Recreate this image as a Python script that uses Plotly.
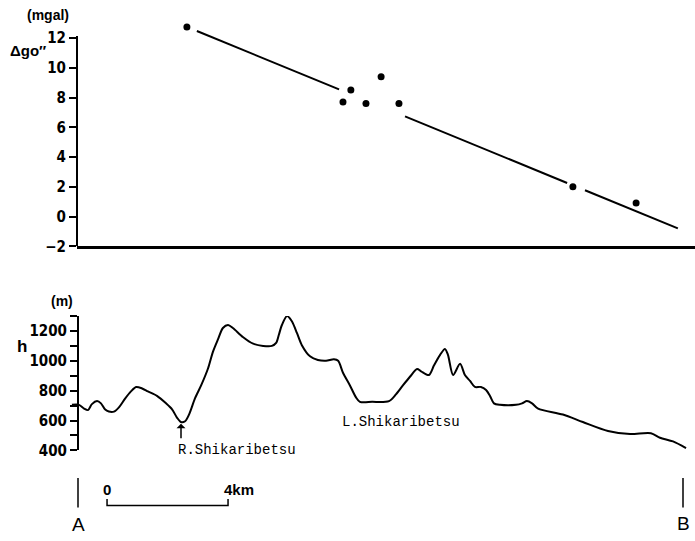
import plotly.graph_objects as go

# ---------------- data ----------------
# Gravity anomaly (top panel): distance along profile A-B (km), value (mgal)
grav_km = [3.60, 8.76, 9.02, 9.52, 10.02, 10.61, 16.36, 18.45]
grav_mgal = [12.75, 7.7, 8.5, 7.6, 9.4, 7.6, 2.0, 0.92]

# Trend line segments (drawn with gaps around the points)
trend_km = [3.93, 8.63, None, 10.81, 16.17, None, 16.76, 19.83]
trend_mgal = [12.47, 8.55, None, 6.73, 2.26, None, 1.77, -0.79]

# Topographic profile (bottom panel): distance (km), height (m)
prof_km = [-0.20, 0.03, 0.20, 0.33, 0.46, 0.63, 0.76, 0.89, 1.02, 1.19,
           1.36, 1.55, 1.75, 1.92, 2.12, 2.31, 2.61, 2.91, 3.11, 3.27,
           3.40, 3.54, 3.67, 3.87, 4.07, 4.30, 4.46, 4.63, 4.79, 4.96,
           5.12, 5.45, 5.79, 6.12, 6.41, 6.55, 6.64, 6.74, 6.91, 7.07,
           7.24, 7.40, 7.67, 7.93, 8.20, 8.46, 8.60, 8.76, 8.99, 9.19,
           9.32, 9.72, 10.28, 10.51, 10.74, 10.98, 11.21, 11.34, 11.60, 11.77,
           11.97, 12.13, 12.23, 12.40, 12.63, 12.79, 12.96, 13.12, 13.32, 13.49,
           13.62, 13.75, 13.95, 14.48, 14.68, 14.84, 15.01, 15.21, 16.03, 16.69,
           17.52, 18.25, 18.94, 19.24, 19.67, 20.10]
prof_h = [705, 705, 680, 670, 710, 730, 715, 675, 660, 660,
          690, 745, 795, 825, 815, 795, 765, 715, 675, 620,
          590, 595, 640, 750, 835, 950, 1060, 1145, 1220, 1240,
          1220, 1160, 1115, 1100, 1100, 1120, 1175, 1240, 1300, 1265,
          1185, 1105, 1030, 1005, 1000, 1010, 1000, 920, 835, 755,
          725, 725, 730, 775, 835, 895, 945, 930, 905, 970,
          1040, 1080, 1040, 905, 980, 905, 865, 825, 825, 805,
          765, 715, 705, 705, 715, 730, 715, 680, 640, 590,
          530, 510, 515, 485, 460, 415]

grav_ticks = [-2, 0, 2, 4, 6, 8, 10, 12]
grav_axis_top = 12.13
h_ticks = [400, 600, 800, 1000, 1200]

scale_start_km = 0.96
scale_len_km = 4
A_km, B_km = 0.0, 20.0

# ---------------- layout helpers ----------------
W, H = 695, 541
def px(x):
    return x / W
def py(y):
    return 1 - y / H

KM_PX = 30.25
X0_PX = 78.0
def km_at(xpx):
    return (xpx - X0_PX) / KM_PX

# top panel vertical placement: -2 mgal at 250.5 px, 15.13 px per mgal
G_BOTTOM_PX = 250.5
G_PX_PER = 15.13
G_TOP_VAL = 13.2
g_top_px = G_BOTTOM_PX - (G_TOP_VAL + 2) * G_PX_PER

NARROW = "Liberation Sans Narrow, DejaVu Sans Condensed, Arial Narrow, sans-serif"
SANS = "Liberation Sans, Arial, sans-serif"
MONO = "Liberation Mono, DejaVu Sans Mono, monospace"

fig = go.Figure()
fig.add_trace(go.Scatter(x=trend_km, y=trend_mgal, mode="lines",
                         line=dict(color="black", width=2),
                         connectgaps=False, xaxis="x", yaxis="y",
                         cliponaxis=False, showlegend=False))
fig.add_trace(go.Scatter(x=grav_km, y=grav_mgal, mode="markers",
                         marker=dict(color="black", size=7),
                         xaxis="x", yaxis="y", cliponaxis=False,
                         showlegend=False))
fig.add_trace(go.Scatter(x=prof_km, y=prof_h, mode="lines",
                         line=dict(color="black", width=2, shape="spline",
                                   smoothing=0.8),
                         xaxis="x2", yaxis="y2", cliponaxis=False,
                         showlegend=False))

tickfont = dict(family=NARROW, size=15, color="black", weight="bold")
fig.update_layout(
    width=W, height=H, autosize=False,
    margin=dict(l=0, r=0, t=0, b=0),
    paper_bgcolor="white", plot_bgcolor="white",
    xaxis=dict(domain=[px(77), 1], range=[km_at(77), km_at(695)],
               showline=True, linecolor="black", linewidth=2.5,
               showticklabels=False, ticks="", showgrid=False,
               zeroline=False, anchor="y"),
    yaxis=dict(domain=[py(G_BOTTOM_PX), py(g_top_px)], range=[-2, G_TOP_VAL],
               showline=False,
               tickvals=grav_ticks, ticks="outside", ticklen=7,
               tickwidth=2, tickcolor="black", tickfont=tickfont,
               showgrid=False, zeroline=False, anchor="x"),
    xaxis2=dict(domain=[0, 1], range=[km_at(0), km_at(695)],
                visible=False, anchor="y2"),
    yaxis2=dict(domain=[py(458), py(321.4)], range=[400, 1300],
                anchor="free", position=px(78),
                showline=True, linecolor="black", linewidth=2,
                tickvals=h_ticks, ticks="outside", ticklen=7,
                tickwidth=2, tickcolor="black", tickfont=tickfont,
                minor=dict(dtick=100, tick0=400, ticks="outside", ticklen=7,
                           tickwidth=2, tickcolor="black"),
                showgrid=False, zeroline=False),
)

ann = []
def text(x, y, s, family=SANS, size=14, weight="bold"):
    ann.append(dict(x=px(x), y=py(y), xref="paper", yref="paper", text=s,
                    showarrow=False, xanchor="center", yanchor="middle",
                    font=dict(family=family, size=size, color="black",
                              weight=weight)))

text(48, 15.5, "(mgal)", size=14)
text(28, 51, "\u0394go\u2033", size=15)
text(62, 306.5, "(m)", size=14)
text(22, 352, "h", size=17)
text(237, 458, "R.Shikaribetsu", family=MONO, size=14, weight="normal")
text(401, 429.5, "L.Shikaribetsu", family=MONO, size=14, weight="normal")
text(107, 498, "0", size=15)
text(239, 498, "4km", size=15)
text(78, 533, "A", size=19, weight="normal")
text(683, 532, "B", size=19, weight="normal")

# arrow pointing up at the river
ann.append(dict(x=px(181), y=py(431), xref="paper", yref="paper",
                ax=0, ay=16, showarrow=True, arrowhead=1, arrowsize=1,
                arrowwidth=1.5, arrowcolor="black", text=""))
fig.update_layout(annotations=ann)

shapes = []
# top y-axis line (stops at the 12 tick level)
shapes.append(dict(type="line", xref="paper", yref="y",
                   x0=px(77), x1=px(77), y0=-2, y1=grav_axis_top,
                   line=dict(color="black", width=2)))
# scale bar
s0 = scale_start_km
s1 = scale_start_km + scale_len_km
shapes.append(dict(type="path", xref="x2", yref="paper",
                   path=f"M {s0},{py(507.5)} L {s0},{py(514)} L {s1},{py(514)} L {s1},{py(507.5)}",
                   line=dict(color="black", width=1.5)))
# A and B markers
for k in (A_km, B_km):
    shapes.append(dict(type="line", xref="x2", yref="paper",
                       x0=k, x1=k, y0=py(486), y1=py(516),
                       line=dict(color="black", width=1.5)))
fig.update_layout(shapes=shapes)

fig.write_html("out.html", config={"displayModeBar": False},
               post_script="document.body.style.margin='0';document.body.style.overflow='hidden';")
